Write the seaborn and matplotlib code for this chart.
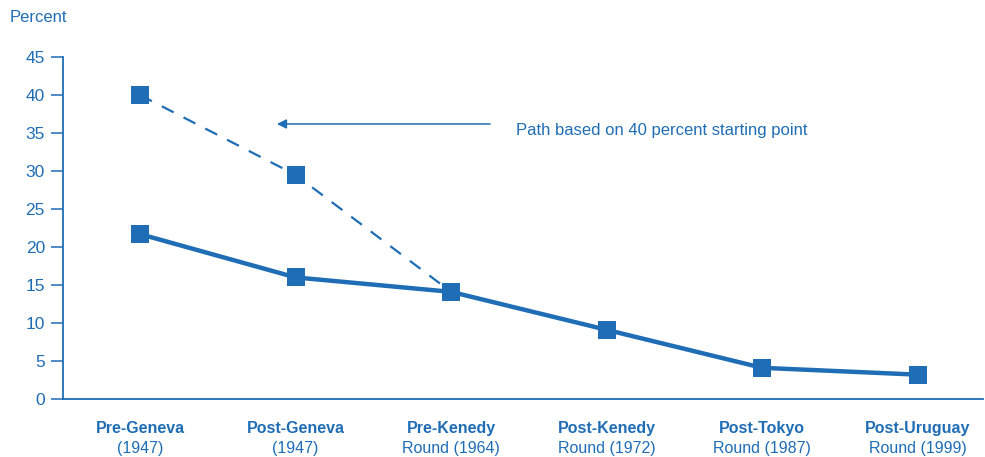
import matplotlib
matplotlib.use("Agg")
import matplotlib.pyplot as plt
import seaborn as sns
import pandas as pd

# Average tariff path across negotiating rounds
rounds_top = ["Pre-Geneva", "Post-Geneva", "Pre-Kenedy", "Post-Kenedy", "Post-Tokyo", "Post-Uruguay"]
rounds_bottom = ["(1947)", "(1947)", "Round (1964)", "Round (1972)", "Round (1987)", "Round (1999)"]
tariff_pct = [21.7, 16.0, 14.1, 9.1, 4.1, 3.2]
alt_path_pct = [40.0, 29.5, 14.1]
y_ticks = [0, 5, 10, 15, 20, 25, 30, 35, 40, 45]
annotation = "Path based on 40 percent starting point"

BLUE = "#1f6db5"

sns.set_theme(style="white")
plt.rcParams["font.family"] = ["Liberation Sans", "DejaVu Sans"]

main = pd.DataFrame({"pos": range(len(tariff_pct)), "pct": tariff_pct})
alt = pd.DataFrame({"pos": range(len(alt_path_pct)), "pct": alt_path_pct})

fig = plt.figure(figsize=(9.85, 4.57), dpi=100)
ax = fig.add_axes([0.064, 0.127, 0.934, 0.748])

sns.lineplot(data=alt, x="pos", y="pct", ax=ax, color=BLUE, linewidth=1.6,
             marker="s", markersize=12.5, markeredgewidth=0,
             linestyle=(0, (6, 5)), zorder=2)
sns.lineplot(data=main, x="pos", y="pct", ax=ax, color=BLUE, linewidth=3.2,
             marker="s", markersize=12.5, markeredgewidth=0, zorder=3)

ax.set_xlim(-0.495, 5.42)
ax.set_ylim(0, 45)
ax.set_yticks(y_ticks)
ax.set_yticklabels([str(t) for t in y_ticks], fontsize=12.5, color=BLUE)
ax.set_xticks([])
ax.set_xlabel("")
ax.set_ylabel("")

for side in ["top", "right"]:
    ax.spines[side].set_visible(False)
for side in ["left", "bottom"]:
    ax.spines[side].set_color(BLUE)
    ax.spines[side].set_linewidth(1.3)
ax.tick_params(axis="y", which="both", left=True, length=9, width=1.1,
               color=BLUE, pad=4)

xt = ax.get_xaxis_transform()
for i, (top, bottom) in enumerate(zip(rounds_top, rounds_bottom)):
    ax.text(i, -0.085, top, transform=xt, ha="center", va="center",
            fontsize=11.5, fontweight="bold", color=BLUE)
    ax.text(i, -0.145, bottom, transform=xt, ha="center", va="center",
            fontsize=11.5, color=BLUE)

fig.text(0.010, 0.962, "Percent", ha="left", va="center", fontsize=12, color=BLUE)

ax.annotate("", xy=(0.88, 36.2), xytext=(2.25, 36.2),
            arrowprops=dict(arrowstyle="-|>", color=BLUE, lw=1.1,
                            mutation_scale=14, shrinkA=0, shrinkB=0))
ax.text(2.42, 35.3, annotation, ha="left", va="center", fontsize=12, color=BLUE)

fig.savefig("out.png", dpi=100)
